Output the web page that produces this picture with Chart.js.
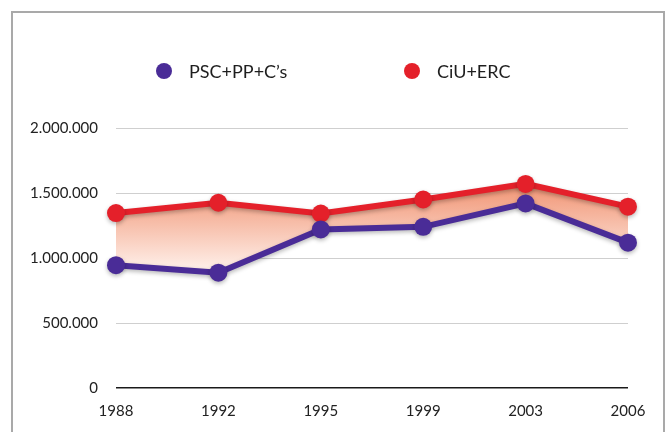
<!DOCTYPE html>
<html>
<head>
<meta charset="utf-8">
<script src="https://cdn.jsdelivr.net/npm/chart.js@4/dist/chart.umd.min.js"></script>
<style>
  html, body { margin: 0; padding: 0; background: #fff; }
  body { width: 667px; height: 432px; position: relative; overflow: hidden; }
  #frame {
    position: absolute; left: 11px; top: 11px; width: 654px; height: 440px;
    border: 2px solid #a9a9a9; box-sizing: border-box;
  }
  #wrap { position: absolute; left: 0; top: 0; width: 667px; height: 432px; }
</style>
</head>
<body>
<div id="frame"></div>
<div id="wrap"><canvas id="chart"></canvas></div>
<script>
'use strict';

// ─── Data ─────────────────────────────────────────────────────────────────────
const years   = ['1988', '1992', '1995', '1999', '2003', '2006'];
const pscPpCs = [945000, 887000, 1220000, 1240000, 1420000, 1118000];
const ciuErc  = [1346000, 1425000, 1342000, 1450000, 1570000, 1395000];
const yTicks  = [0, 500000, 1000000, 1500000, 2000000];

const PURPLE = '#4a2c97';
const RED    = '#e4202a';
const FONT   = 'Lato, "Open Sans", sans-serif';

// 2.000.000 style thousands separators
function fmtDots(v) {
  return String(v).replace(/\B(?=(\d{3})+(?!\d))/g, '.');
}

// Vertical salmon gradient for the band between the two lines
function bandFill(context) {
  const { chart } = context;
  if (!chart.chartArea) return 'rgba(243,160,130,0.6)';
  const y  = chart.scales.y;
  const g  = chart.ctx.createLinearGradient(0, y.getPixelForValue(1600000), 0, y.getPixelForValue(880000));
  g.addColorStop(0, '#f08f6d');
  g.addColorStop(1, '#fff4ef');
  return g;
}

// ─── Plugins ──────────────────────────────────────────────────────────────────
// Soft drop shadow under the lines (fill is drawn before this kicks in)
const lineShadow = {
  id: 'lineShadow',
  beforeDatasetDraw(chart) {
    const c = chart.ctx;
    c.save();
    c.shadowColor   = 'rgba(0,0,0,0.28)';
    c.shadowBlur    = 4;
    c.shadowOffsetY = 2;
  },
  afterDatasetDraw(chart) {
    chart.ctx.restore();
  },
};

// Wide-spaced legend across the top
const topLegend = {
  id: 'topLegend',
  afterDraw(chart) {
    const c = chart.ctx;
    const centers = [164, 412];
    c.save();
    c.font = '18px ' + FONT;
    c.textBaseline = 'middle';
    c.textAlign = 'left';
    chart.data.datasets.forEach((ds, i) => {
      const cx = centers[i], cy = 71;
      c.beginPath();
      c.arc(cx, cy, 8, 0, Math.PI * 2);
      c.fillStyle = ds.borderColor;
      c.fill();
      c.fillStyle = '#1e1e1e';
      c.fillText(ds.label, cx + 25, cy + 1);
    });
    c.restore();
  },
};

// ─── Chart ────────────────────────────────────────────────────────────────────
new Chart(document.getElementById('chart'), {
  type: 'line',
  data: {
    labels: years,
    datasets: [
      {
        label: 'PSC+PP+C\u2019s', data: pscPpCs,
        borderColor: PURPLE, backgroundColor: PURPLE,
        pointBackgroundColor: PURPLE, pointBorderWidth: 0,
        pointRadius: 9, borderWidth: 6, fill: false, tension: 0, clip: false,
      },
      {
        label: 'CiU+ERC', data: ciuErc,
        borderColor: RED, backgroundColor: bandFill,
        pointBackgroundColor: RED, pointBorderWidth: 0,
        pointRadius: 9, borderWidth: 6, fill: '-1', tension: 0, clip: false,
      },
    ],
  },
  options: {
    responsive: true,
    maintainAspectRatio: false,
    animation: false,
    events: [],
    layout: { autoPadding: false, padding: { top: 128, right: 39, left: 0, bottom: 0 } },
    plugins: { legend: { display: false }, tooltip: { enabled: false } },
    scales: {
      x: {
        grid: { display: false },
        border: { display: false },
        offset: false,
        ticks: { color: '#222', font: { family: FONT, size: 15 }, padding: 6, maxRotation: 0 },
        afterFit: (s) => { s.height = 44; },
      },
      y: {
        min: 0, max: 2000000,
        afterBuildTicks: (s) => { s.ticks = yTicks.map((v) => ({ value: v })); },
        grid: {
          drawTicks: false,
          color: (ctx) => (ctx.tick && ctx.tick.value === 0 ? '#1a1a1a' : '#cfcfcf'),
          lineWidth: (ctx) => (ctx.tick && ctx.tick.value === 0 ? 1.5 : 1),
        },
        border: { display: false },
        ticks: {
          color: '#222', font: { family: FONT, size: 15 }, padding: 18,
          callback: (v) => fmtDots(v),
        },
        afterFit: (s) => { s.width = 116; },
      },
    },
  },
  plugins: [lineShadow, topLegend],
});
</script>
</body>
</html>
